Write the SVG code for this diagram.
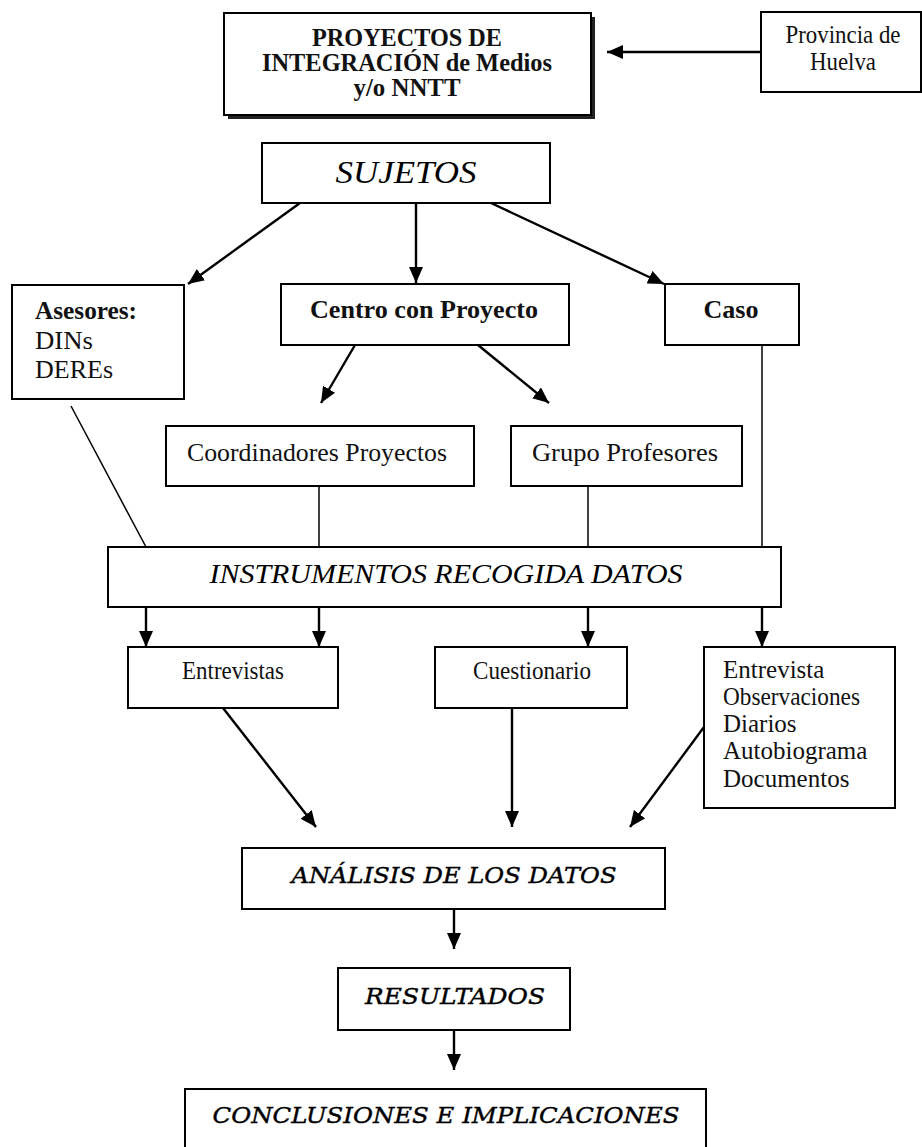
<svg xmlns="http://www.w3.org/2000/svg" width="922" height="1147" viewBox="0 0 922 1147">
<style>
.box{fill:#fff;stroke:#000;stroke-width:2}
.t{font-family:"Liberation Serif","Times New Roman",serif;fill:#111;font-size:25px}
.b{font-weight:bold}
.c{text-anchor:middle}
.h{font-family:"DejaVu Serif","Liberation Serif",serif;font-style:italic;fill:#000;stroke:#000;stroke-width:0.4;text-anchor:middle;font-size:23px}
.hi{font-family:"Liberation Serif","Times New Roman",serif;font-style:italic;fill:#000;text-anchor:middle}
.a{stroke:#000;stroke-width:2.4;fill:none;marker-end:url(#ah)}
.l{stroke:#000;stroke-width:1.5;fill:none}
</style>
<defs>
<marker id="ah" markerUnits="userSpaceOnUse" markerWidth="16" markerHeight="14" refX="16" refY="7" orient="auto">
<path d="M0,0 L16,7 L0,14 z" fill="#000"/>
</marker>
</defs>
<rect width="922" height="1147" fill="#fff"/>
<g id="connectors">
<line class="a" x1="761" y1="52" x2="607" y2="52"/>
<line class="a" x1="300" y1="203" x2="188" y2="284"/>
<line class="a" x1="416" y1="203" x2="416" y2="283"/>
<line class="a" x1="491" y1="203" x2="664" y2="284"/>
<line class="a" x1="355" y1="345" x2="321" y2="403"/>
<line class="a" x1="478" y1="345" x2="549" y2="403"/>
<line class="l" x1="71" y1="406" x2="146" y2="547"/>
<line class="l" x1="319" y1="486" x2="319" y2="547"/>
<line class="l" x1="588" y1="486" x2="588" y2="547"/>
<line class="l" x1="762" y1="345" x2="762" y2="547"/>
<line class="a" x1="146" y1="607" x2="146" y2="647"/>
<line class="a" x1="319" y1="607" x2="319" y2="647"/>
<line class="a" x1="588" y1="607" x2="588" y2="647"/>
<line class="a" x1="762" y1="607" x2="762" y2="647"/>
<line class="a" x1="223" y1="708" x2="316" y2="827"/>
<line class="a" x1="512" y1="708" x2="512" y2="827"/>
<line class="a" x1="704" y1="727" x2="630" y2="827"/>
<line class="a" x1="454" y1="909" x2="454" y2="949"/>
<line class="a" x1="454" y1="1030" x2="454" y2="1070"/>
</g>
<g id="proyectos">
<rect x="228" y="17" width="367" height="102" fill="#222"/>
<rect class="box" x="224" y="13" width="367" height="102"/>
<text class="t b c" x="407" y="46" font-size="21" textLength="190" lengthAdjust="spacingAndGlyphs">PROYECTOS DE</text>
<text class="t b c" x="407" y="71" font-size="21" textLength="290" lengthAdjust="spacingAndGlyphs">INTEGRACIÓN de Medios</text>
<text class="t b c" x="407" y="96" font-size="21" textLength="107" lengthAdjust="spacingAndGlyphs">y/o NNTT</text>
</g>
<g id="provincia">
<rect class="box" x="761" y="12" width="160" height="80"/>
<text class="t c" x="843" y="43" font-size="21" textLength="115" lengthAdjust="spacingAndGlyphs">Provincia de</text>
<text class="t c" x="843" y="70" font-size="21" textLength="66" lengthAdjust="spacingAndGlyphs">Huelva</text>
</g>
<g id="sujetos">
<rect class="box" x="262" y="143" width="288" height="60"/>
<text class="hi" x="406" y="183" font-size="32" textLength="141" lengthAdjust="spacingAndGlyphs">SUJETOS</text>
</g>
<g id="asesores">
<rect class="box" x="12" y="285" width="172" height="114"/>
<text class="t b" x="35" y="319" textLength="102" lengthAdjust="spacingAndGlyphs">Asesores:</text>
<text class="t" x="35" y="349" textLength="58" lengthAdjust="spacingAndGlyphs">DINs</text>
<text class="t" x="35" y="378" textLength="78" lengthAdjust="spacingAndGlyphs">DEREs</text>
</g>
<g id="centro">
<rect class="box" x="281" y="284" width="288" height="61"/>
<text class="t b c" x="424" y="318" textLength="228" lengthAdjust="spacingAndGlyphs">Centro con Proyecto</text>
</g>
<g id="caso">
<rect class="box" x="665" y="284" width="134" height="61"/>
<text class="t b c" x="731" y="318" textLength="55" lengthAdjust="spacingAndGlyphs">Caso</text>
</g>
<g id="coordinadores">
<rect class="box" x="166" y="426" width="308" height="60"/>
<text class="t c" x="317" y="461" textLength="260" lengthAdjust="spacingAndGlyphs">Coordinadores Proyectos</text>
</g>
<g id="grupo">
<rect class="box" x="511" y="426" width="231" height="60"/>
<text class="t c" x="625" y="461" textLength="186" lengthAdjust="spacingAndGlyphs">Grupo Profesores</text>
</g>
<g id="instrumentos">
<rect class="box" x="108" y="547" width="673" height="60"/>
<text class="hi" x="446" y="583" font-size="27" textLength="473" lengthAdjust="spacingAndGlyphs">INSTRUMENTOS RECOGIDA DATOS</text>
</g>
<g id="entrevistas">
<rect class="box" x="128" y="647" width="210" height="61"/>
<text class="t c" x="233" y="679" font-size="23" textLength="102" lengthAdjust="spacingAndGlyphs">Entrevistas</text>
</g>
<g id="cuestionario">
<rect class="box" x="435" y="647" width="192" height="61"/>
<text class="t c" x="532" y="679" font-size="23" textLength="118" lengthAdjust="spacingAndGlyphs">Cuestionario</text>
</g>
<g id="caso-instrumentos">
<rect class="box" x="704" y="647" width="191" height="161"/>
<text class="t" x="723" y="678" font-size="23">Entrevista</text>
<text class="t" x="723" y="705" font-size="23" textLength="137" lengthAdjust="spacingAndGlyphs">Observaciones</text>
<text class="t" x="723" y="732" font-size="23">Diarios</text>
<text class="t" x="723" y="759" font-size="23">Autobiograma</text>
<text class="t" x="723" y="787" font-size="23">Documentos</text>
</g>
<g id="analisis">
<rect class="box" x="242" y="848" width="423" height="61"/>
<text class="h" x="454" y="883" textLength="325" lengthAdjust="spacingAndGlyphs">ANÁLISIS DE LOS DATOS</text>
</g>
<g id="resultados">
<rect class="box" x="338" y="968" width="232" height="62"/>
<text class="h" x="455" y="1004" textLength="180" lengthAdjust="spacingAndGlyphs">RESULTADOS</text>
</g>
<g id="conclusiones">
<rect class="box" x="185" y="1089" width="521" height="70"/>
<text class="h" x="446" y="1123" textLength="467" lengthAdjust="spacingAndGlyphs">CONCLUSIONES E IMPLICACIONES</text>
</g>
</svg>
